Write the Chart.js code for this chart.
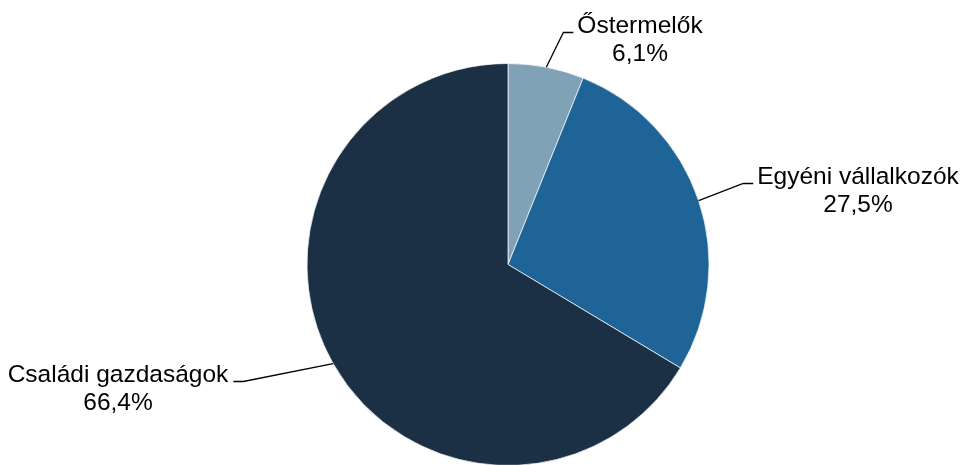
<!DOCTYPE html>
<html>
<head>
<meta charset="utf-8">
<script src="https://cdn.jsdelivr.net/npm/chart.js@4/dist/chart.umd.min.js"></script>
<style>
    html, body { margin: 0; padding: 0; background: #fff; overflow: hidden; }
    #wrap { width: 962px; height: 468px; position: relative; }
</style>
</head>
<body>
<div id="wrap"><canvas id="pieChart"></canvas></div>
<script>
// Data
const categories = ['Őstermelők', 'Egyéni vállalkozók', 'Családi gazdaságok'];
const shares = [6.1, 27.5, 66.4];
const colors = ['#7fa2b7', '#1e6496', '#1b3045'];

// Where each label sits (text centre x, first baseline y) and which side the leader comes from
const labelPlaces = [
    { x: 640, y: 33, side: 'left' },
    { x: 858, y: 184, side: 'left' },
    { x: 118, y: 382, side: 'right' }
];

const FONT = '24.5px "Liberation Sans", Arial, sans-serif';

// Draws the labels with their leader lines
const leaderLabels = {
    id: 'leaderLabels',
    afterDatasetsDraw(chart) {
        const ctx = chart.ctx;
        const arcs = chart.getDatasetMeta(0).data;
        ctx.save();
        ctx.font = FONT;
        ctx.fillStyle = '#000';
        ctx.strokeStyle = '#000';
        ctx.lineWidth = 1.3;
        ctx.textAlign = 'center';
        ctx.textBaseline = 'alphabetic';

        arcs.forEach(function(arc, i) {
            const p = labelPlaces[i];
            const name = categories[i];
            const pct = shares[i].toFixed(1).replace('.', ',') + '%';
            const w = ctx.measureText(name).width;

            // start on the edge of the slice, in the middle of it
            const mid = (arc.startAngle + arc.endAngle) / 2;
            const sx = arc.x + Math.cos(mid) * arc.outerRadius;
            const sy = arc.y + Math.sin(mid) * arc.outerRadius;

            let ex, kx;
            if (p.side === 'left') {
                ex = p.x - w / 2 - 4;
                kx = ex - 10;
            } else {
                ex = p.x + w / 2 + 5;
                kx = ex + 10;
            }
            const ly = p.y - 0.5;

            ctx.beginPath();
            ctx.moveTo(sx, sy);
            ctx.lineTo(kx, ly);
            ctx.lineTo(ex, ly);
            ctx.stroke();

            ctx.fillText(name, p.x, p.y);
            ctx.fillText(pct, p.x, p.y + 28);
        });
        ctx.restore();
    }
};

function initChart() {
    const ctx = document.getElementById('pieChart').getContext('2d');
    new Chart(ctx, {
        type: 'pie',
        data: {
            labels: categories,
            datasets: [{
                data: shares,
                backgroundColor: colors,
                borderColor: 'rgba(255,255,255,0.7)',
                borderWidth: 1
            }]
        },
        options: {
            responsive: true,
            maintainAspectRatio: false,
            animation: false,
            layout: {
                padding: { top: 63, bottom: 2, left: 54, right: 0 }
            },
            plugins: {
                legend: { display: false },
                tooltip: { enabled: false }
            }
        },
        plugins: [leaderLabels]
    });
}

document.addEventListener('DOMContentLoaded', initChart);
</script>
</body>
</html>
